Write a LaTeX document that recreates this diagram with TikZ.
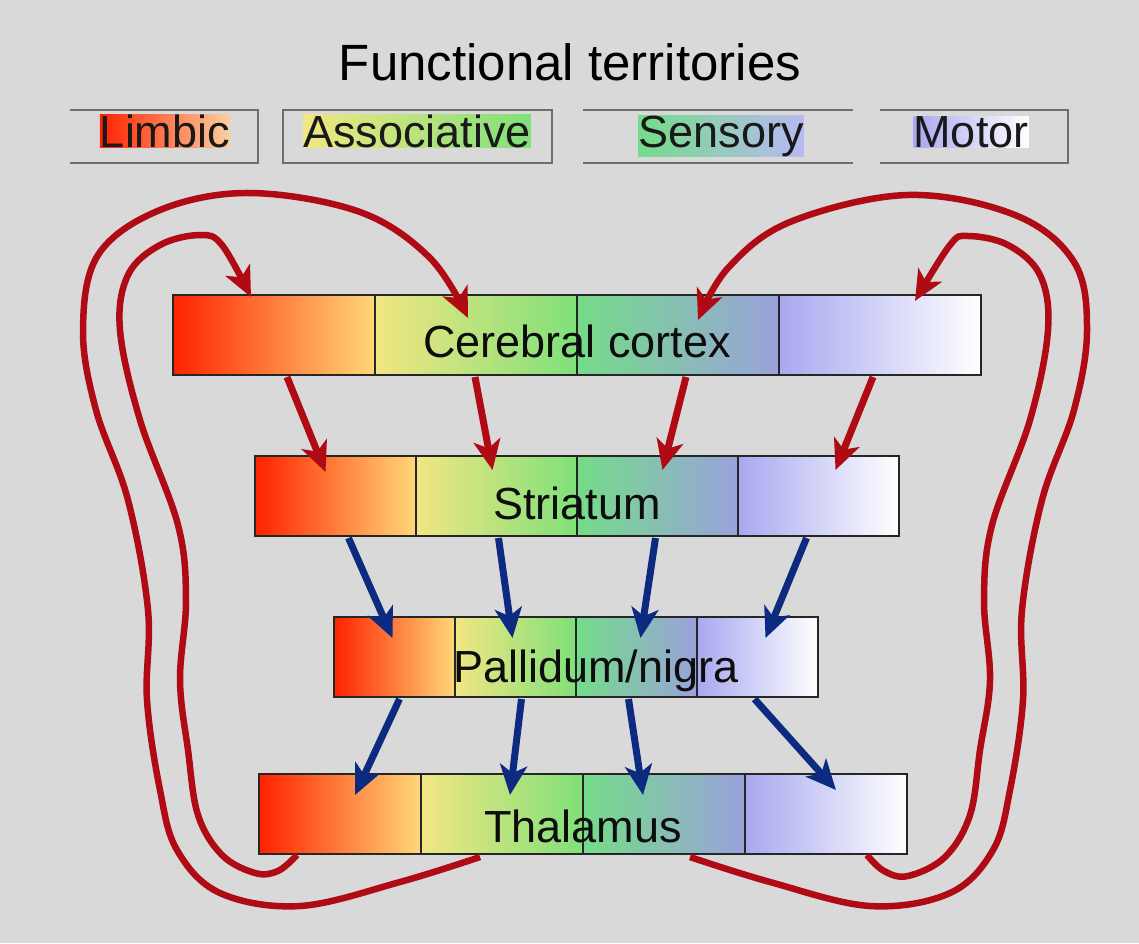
\documentclass[tikz,border=0pt]{standalone}
\usepackage{fontspec}
\setmainfont{Liberation Sans}
\usetikzlibrary{arrows.meta,positioning,calc}
\definecolor{bgpanel}{HTML}{D9D9D9}
\definecolor{loopred}{HTML}{B00A14}
\definecolor{pathblue}{HTML}{0C2A80}
\definecolor{limA}{HTML}{FF2200}
\definecolor{limB}{HTML}{FFD878}
\definecolor{assA}{HTML}{F2E682}
\definecolor{assB}{HTML}{80E07A}
\definecolor{senA}{HTML}{74DC88}
\definecolor{senB}{HTML}{9AA2DC}
\definecolor{motA}{HTML}{A8A8F0}
\definecolor{motB}{HTML}{FFFFFF}
\definecolor{limP}{HTML}{FAD0A0}
\definecolor{legline}{HTML}{6E6E6E}
\tikzset{
  seg/.style={draw=black!85, line width=1.2pt, minimum height=80pt, inner sep=0pt, outer sep=0pt},
  lim/.style={left color=limA, right color=limB},
  ass/.style={left color=assA, right color=assB},
  sen/.style={left color=senA, right color=senB},
  mot/.style={left color=motA, right color=motB},
  lbl/.style={font=\fontsize{45}{54}\selectfont, anchor=base, text=black!95},
  legtxt/.style={font=\fontsize{45}{54}\selectfont, anchor=base, inner sep=0pt, text=black!90},
  legbox/.style={minimum height=53pt, inner sep=0pt, outer sep=0pt},
  leg/.style={line width=2pt, color=legline},
  redarr/.style={-{Stealth[length=30pt,width=27pt,inset=8pt]}, line width=7pt, color=loopred},
  bluarr/.style={-{Stealth[length=30pt,width=27pt,inset=8pt]}, line width=7pt, color=pathblue},
  redloop/.style={redarr, line width=6.5pt, line join=round},
}
% one row of four territories: name, centre x of first, centre y, segment width
\newcommand{\terrow}[4]{%
  \node[seg, lim, minimum width=#4pt] (#1-1) at (#2,#3) {};
  \node[seg, ass, minimum width=#4pt, right=0pt of #1-1] (#1-2) {};
  \node[seg, sen, minimum width=#4pt, right=0pt of #1-2] (#1-3) {};
  \node[seg, mot, minimum width=#4pt, right=0pt of #1-3] (#1-4) {};
}

\begin{document}
\begin{tikzpicture}[x=1pt, y=-1pt]
  \useasboundingbox (0,0) rectangle (1139,943);
  \fill[bgpanel] (0,0) rectangle (1139,943);
  \node[font=\fontsize{51}{60}\selectfont, anchor=base] (title) at (570,80) {Functional territories};
  % legend
  \node[legbox, minimum width=188pt] (box-lim) at (164,136.5) {};
  \node[legbox, minimum width=269pt] (box-ass) at (417.5,136.5) {};
  \node[legbox, minimum width=270pt] (box-sen) at (718,136.5) {};
  \node[legbox, minimum width=188pt] (box-mot) at (974,136.5) {};
  \draw[leg] (box-lim.north west) -- (box-lim.north east) -- (box-lim.south east) -- (box-lim.south west);
  \draw[leg] (box-ass.north west) rectangle (box-ass.south east);
  \draw[leg] (box-sen.north west) -- (box-sen.north east) (box-sen.south west) -- (box-sen.south east);
  \draw[leg] (box-mot.north west) -- (box-mot.north east) -- (box-mot.south east) -- (box-mot.south west);
  \node[legtxt, left color=limA, right color=limP] (key-lim) at (165,147) {Limbic};
  \node[legtxt, ass] (key-ass) at (417,147) {Associative};
  \node[legtxt, left color=senA, right color=motA!80!white] (key-sen) at (721,147) {Sensory};
  \node[legtxt, mot] (key-mot) at (971,147) {Motor};
  % the four stations
  \terrow{ctx}{274}{335}{202}
  \terrow{str}{335.5}{496}{161}
  \terrow{pal}{394.5}{657}{121}
  \terrow{tha}{340}{814}{162}
  \node[lbl] (ctx-lbl) at ($(ctx-2.south east)+(0,-18)$) {Cerebral cortex};
  \node[lbl] (str-lbl) at ($(str-2.south east)+(0,-17)$) {Striatum};
  \node[lbl] (pal-lbl) at ($(pal-2.south east)+(20,-15)$) {Pallidum/nigra};
  \node[lbl] (tha-lbl) at ($(tha-2.south east)+(0,-12)$) {Thalamus};
  % cortex -> striatum
  \draw[redarr] ($(ctx-1.south)+(13,2)$) -- ($(str-1.north)+(-10,16)$);
  \draw[redarr] ($(ctx-2.south)+(-1,2)$) -- ($(str-2.north)+(-4,14)$);
  \draw[redarr] ($(ctx-3.south)+(8,2)$) -- ($(str-3.north)+(5,14)$);
  \draw[redarr] ($(ctx-4.south)+(-7,2)$) -- ($(str-4.north)+(17,14)$);
  % striatum -> pallidum
  \draw[bluarr] ($(str-1.south)+(13,2)$) -- ($(pal-1.north)+(-2,21)$);
  \draw[bluarr] ($(str-2.south)+(2,2)$) -- ($(pal-2.north)+(-3,21)$);
  \draw[bluarr] ($(str-3.south)+(-2,2)$) -- ($(pal-3.north)+(4,21)$);
  \draw[bluarr] ($(str-4.south)+(-12,2)$) -- ($(pal-4.north)+(8,21)$);
  % pallidum -> thalamus
  \draw[bluarr] ($(pal-1.south)+(5,2)$) -- ($(tha-1.north)+(15,21)$);
  \draw[bluarr] ($(pal-2.south)+(6,2)$) -- ($(tha-2.north)+(8,21)$);
  \draw[bluarr] ($(pal-3.south)+(-8,2)$) -- ($(tha-3.north)+(-21,21)$);
  \draw[bluarr] ($(pal-4.south)+(-3,2)$) -- ($(tha-4.north)+(10,16)$);
  % thalamus -> cortex loops
  \coordinate (lo-a) at ($(tha-2.south)+(-22,3)$);
  \coordinate (lo-b) at ($(ctx-2.north)+(-8,23)$);
  \coordinate (li-a) at ($(tha-1.south)+(-43,1)$);
  \coordinate (li-b) at ($(ctx-1.north)+(-23,2)$);
  \coordinate (ro-a) at ($(tha-3.south)+(26,3)$);
  \coordinate (ro-b) at ($(ctx-3.north)+(20,25)$);
  \coordinate (ri-a) at ($(tha-4.south)+(41,1)$);
  \coordinate (ri-b) at ($(ctx-4.north)+(35,6)$);
  \draw[redloop] plot[smooth, tension=0.6] coordinates {(lo-a) (400,882) (300,906) (220,893) (177,850) (160,790) (147,700) (148,610) (128,500) (96,410) (83,330) (98,255) (160,210) (250,193) (360,212) (430,258) (lo-b)};
  \draw[redloop] plot[smooth, tension=0.6] coordinates {(li-a) (278,871) (255,873) (222,855) (198,815) (188,750) (180,680) (186,600) (178,525) (140,420) (120,330) (128,275) (160,245) (200,235) (222,245) (li-b)};
  \draw[redloop] plot[smooth, tension=0.6] coordinates {(ro-a) (770,882) (870,906) (950,893) (993,850) (1010,790) (1023,700) (1022,610) (1042,500) (1074,410) (1087,330) (1074,262) (1015,215) (907,195) (790,222) (728,268) (ro-b)};
  \draw[redloop] plot[smooth, tension=0.6] coordinates {(ri-a) (884,871) (908,876) (945,857) (970,815) (980,750) (990,680) (984,600) (992,525) (1030,420) (1048,330) (1040,275) (1008,245) (968,236) (950,245) (ri-b)};
\end{tikzpicture}
\end{document}
